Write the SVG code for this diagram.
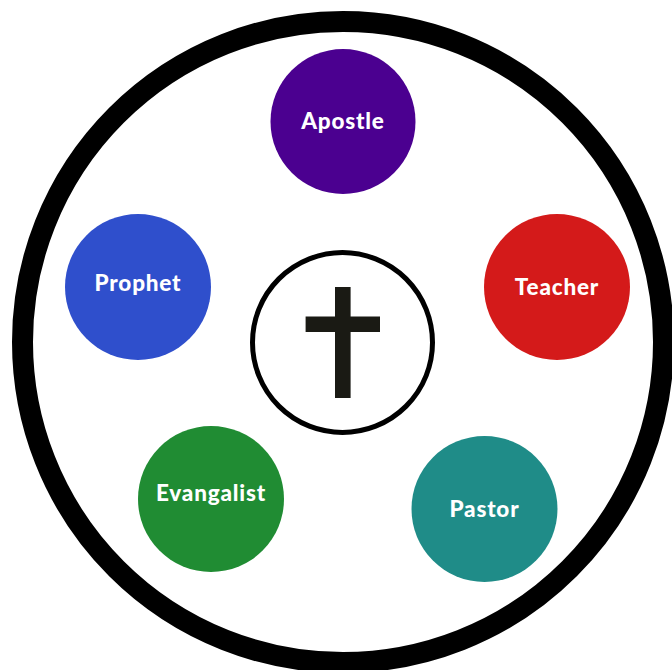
<svg xmlns="http://www.w3.org/2000/svg" width="672" height="670" viewBox="0 0 672 670">
<style>
.node text{font-family:Lato,"Liberation Sans",sans-serif;font-weight:900;font-size:22.5px;letter-spacing:0.8px;fill:#fff;text-anchor:middle}
</style>
<rect width="672" height="670" fill="#fff"/>
<g id="outer-ring"><circle cx="343" cy="342" r="320.5" fill="none" stroke="#000" stroke-width="21"/></g>
<g id="center">
<circle cx="342.5" cy="342.5" r="90" fill="#fff" stroke="#000" stroke-width="5"/>
<rect x="335" y="287" width="15.6" height="111" fill="#1a1a14"/>
<rect x="305.6" y="316.5" width="74.4" height="15.5" fill="#1a1a14"/>
</g>
<g id="connectors"></g>
<g id="apostle" class="node"><circle cx="343" cy="121.5" r="72.5" fill="#4b0090"/><text x="343" y="129">Apostle</text></g>
<g id="prophet" class="node"><circle cx="138" cy="287" r="73" fill="#2f4fcc"/><text x="138" y="291">Prophet</text></g>
<g id="teacher" class="node"><circle cx="557" cy="287" r="73" fill="#d41a1a"/><text x="557" y="295">Teacher</text></g>
<g id="evangalist" class="node"><circle cx="211" cy="499" r="73" fill="#208c33"/><text x="211" y="501">Evangalist</text></g>
<g id="pastor" class="node"><circle cx="484.5" cy="509" r="73" fill="#1f8c88"/><text x="484.5" y="517">Pastor</text></g>
</svg>
